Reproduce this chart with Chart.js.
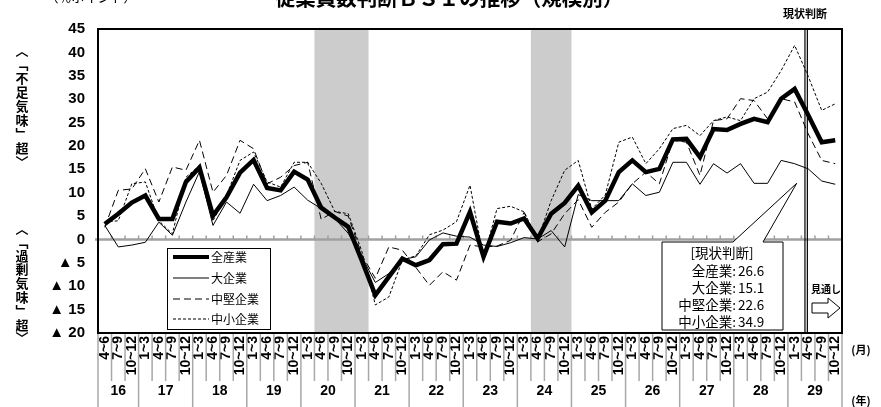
<!DOCTYPE html>
<html><head><meta charset="utf-8">
<script src="https://cdn.jsdelivr.net/npm/chart.js@4.4.0/dist/chart.umd.min.js"></script>
<style>html,body{margin:0;padding:0;background:#fff;}#wrap{width:881px;height:407px;}</style>
</head><body><div id="wrap"><canvas id="c" width="881" height="407"></canvas></div>
<script>
const monthLabels = ['4~6','7~9','10~12',
 '1~3','4~6','7~9','10~12','1~3','4~6','7~9','10~12','1~3','4~6','7~9','10~12',
 '1~3','4~6','7~9','10~12','1~3','4~6','7~9','10~12','1~3','4~6','7~9','10~12',
 '1~3','4~6','7~9','10~12','1~3','4~6','7~9','10~12','1~3','4~6','7~9','10~12',
 '1~3','4~6','7~9','10~12','1~3','4~6','7~9','10~12','1~3','4~6','7~9','10~12',
 '1~3','4~6','7~9','10~12'];
const yearLabels = ['16','17','18','19','20','21','22','23','24','25','26','27','28','29'];
const yearCounts = [3,4,4,4,4,4,4,4,4,4,4,4,4,4];
const allIndustry = [3.3,5.5,7.9,9.4,4.4,4.4,12.3,15.4,5.1,9.0,14.3,17.0,11.0,10.5,14.5,12.8,6.8,4.7,2.7,-4.5,-11.9,-8.0,-4.1,-5.5,-4.4,-1.0,-0.9,5.9,-3.7,3.8,3.4,4.5,0.2,5.5,7.8,11.5,5.8,8.3,14.4,16.9,14.4,15.1,21.4,21.5,17.6,23.6,23.4,24.7,25.8,25.1,30.1,32.2,26.6,20.8,21.2];
const largeFirms = [3.0,-1.6,-1.2,-0.6,3.7,0.9,8.0,14.5,3.0,8.0,5.6,11.8,8.3,9.4,11.2,8.4,6.6,4.5,1.3,-3.7,-9.2,-7.3,-4.3,-3.7,-0.1,1.4,0.7,0.5,-1.2,-1.5,-0.7,0.4,0.1,1.9,-1.6,9.6,8.3,8.3,8.3,11.9,9.4,10.1,16.5,16.5,11.8,16.2,14.2,16.2,12.0,12.0,16.9,16.2,15.1,12.5,11.8];
const midFirms = [2.6,10.5,10.8,15.1,8.0,15.5,14.8,21.2,10.1,13.7,21.2,19.4,11.9,13.3,15.8,16.5,4.3,6.0,5.0,-3.3,-8.3,-1.6,-2.3,-6.0,-9.8,-6.9,-8.7,-1.2,-1.6,-1.4,-0.2,5.8,-0.5,1.2,5.5,8.5,2.6,5.8,8.0,11.9,14.4,11.9,21.2,20.8,13.7,25.4,25.8,30.1,29.7,25.8,30.1,29.4,22.6,16.9,16.2];
const smallFirms = [3.7,4.0,11.9,12.3,4.0,1.2,13.3,15.8,4.0,9.4,16.9,18.7,12.3,11.2,16.5,16.5,12.0,6.0,5.5,-2.5,-14.0,-12.3,-4.4,-3.5,1.0,2.0,3.8,11.6,-4.0,6.6,7.1,5.9,-0.1,8.3,14.8,16.9,6.5,9.5,20.8,21.9,16.2,19.4,23.7,24.4,22.2,25.4,26.2,25.4,30.1,31.5,36.1,41.5,34.9,27.6,29.0];
const seriesNames = ['全産業','大企業','中堅企業','中小企業'];
const currentValues = ['26.6','15.1','22.6','34.9'];
const recessionRanges = [[16,19],[32,34]];
const currentIndex = 52;
const yMin = -20, yMax = 45, yStep = 5;

const JP = '"Noto Sans CJK JP", sans-serif';
const LAT = '"Liberation Sans", Arial, sans-serif';

const decor = {
  id: 'decor',
  beforeDatasetsDraw(chart) {
    const {ctx, chartArea: a, scales: {x, y}} = chart;
    ctx.save();
    ctx.fillStyle = '#cccccc';
    recessionRanges.forEach(([s, e]) => {
      const x0 = x.getPixelForValue(s - 0.5), x1 = x.getPixelForValue(e + 0.5);
      ctx.fillRect(x0, a.top, x1 - x0, a.bottom - a.top);
    });
    const y0 = y.getPixelForValue(0);
    ctx.strokeStyle = '#a0a0a0';
    ctx.lineWidth = 2.5;
    ctx.beginPath(); ctx.moveTo(a.left - 3, y0); ctx.lineTo(a.right, y0); ctx.stroke();
    ctx.lineWidth = 1.5;
    for (let k = 1; k < monthLabels.length; k++) {
      const px = x.getPixelForValue(k - 0.5);
      ctx.beginPath(); ctx.moveTo(px, y0); ctx.lineTo(px, y0 - 4); ctx.stroke();
    }
    ctx.restore();
  },
  afterDraw(chart) {
    const {ctx, chartArea: a, scales: {x, y}} = chart;
    ctx.save();
    const yearStarts = new Set([0]);
    let acc = 0;
    yearCounts.forEach(c => { acc += c; yearStarts.add(acc); });
    ctx.strokeStyle = '#a8a8a8';
    ctx.lineWidth = 1.5;
    for (let k = 0; k <= monthLabels.length; k++) {
      const px = x.getPixelForValue(k - 0.5);
      ctx.beginPath(); ctx.moveTo(px, a.bottom); ctx.lineTo(px, yearStarts.has(k) ? 407 : 381); ctx.stroke();
    }
    ctx.fillStyle = '#000';
    ctx.font = 'bold 14px ' + LAT;
    ctx.textAlign = 'center'; ctx.textBaseline = 'middle';
    acc = 0;
    yearLabels.forEach((lab, i) => {
      const mid = acc + yearCounts[i] / 2 - 0.5;
      ctx.fillText(lab, x.getPixelForValue(mid), 391);
      acc += yearCounts[i];
    });
    ctx.font = 'bold 11px ' + JP;
    ctx.fillText('(月)', 861, 350);
    ctx.fillText('(年)', 861, 401);
    ctx.strokeStyle = '#000'; ctx.lineWidth = 2;
    ctx.strokeRect(a.left, a.top, a.right - a.left, a.bottom - a.top);
    const dx = x.getPixelForValue(currentIndex - 0.15);
    ctx.lineWidth = 1.2;
    [dx - 1.2, dx + 1.2].forEach(px => { ctx.beginPath(); ctx.moveTo(px, a.top); ctx.lineTo(px, a.bottom); ctx.stroke(); });
    ctx.font = 'bold 20.5px ' + JP;
    ctx.textAlign = 'center'; ctx.textBaseline = 'alphabetic';
    ctx.fillText('従業員数判断ＢＳＩの推移（規模別）', 449, 6);
    ctx.font = '13px ' + JP;
    ctx.fillText('（％ポイント）', 91, 2);
    ctx.font = 'bold 11px ' + JP;
    ctx.textBaseline = 'middle';
    ctx.fillText('現状判断', 805, 14);
    ctx.font = 'bold 13px ' + JP;
    const up = ['︿','﹁','不','足','気','味','﹂','超','﹀'];
    const lo = ['︿','﹁','過','剰','気','味','﹂','超','﹀'];
    up.forEach((ch, i) => ctx.fillText(ch, 22, 50 + i * 14));
    lo.forEach((ch, i) => ctx.fillText(ch, 22, 228 + i * 13.8));
    ctx.fillStyle = '#fff';
    ctx.fillRect(167, 248, 103, 81);
    ctx.strokeStyle = '#000'; ctx.lineWidth = 1;
    ctx.strokeRect(167.5, 248.5, 103, 81);
    const legY = [257, 278, 299, 319];
    const styles = [[4, []], [1, []], [1, [7, 4]], [1, [3, 2]]];
    legY.forEach((ly, i) => {
      ctx.lineWidth = styles[i][0]; ctx.setLineDash(styles[i][1]);
      ctx.beginPath(); ctx.moveTo(173, ly); ctx.lineTo(209, ly); ctx.stroke();
      ctx.setLineDash([]);
      ctx.fillStyle = '#000'; ctx.font = '12px ' + JP; ctx.textAlign = 'left';
      ctx.fillText(seriesNames[i], 211, ly);
    });
    const tipX = x.getPixelForValue(currentIndex - 0.85), tipY = y.getPixelForValue(12);
    ctx.beginPath();
    ctx.moveTo(662, 242); ctx.lineTo(733, 242); ctx.lineTo(tipX, tipY); ctx.lineTo(763, 242);
    ctx.lineTo(783, 242); ctx.lineTo(783, 330); ctx.lineTo(662, 330); ctx.closePath();
    ctx.fillStyle = '#fff'; ctx.fill();
    ctx.lineWidth = 1; ctx.strokeStyle = '#000'; ctx.stroke();
    ctx.fillStyle = '#000'; ctx.font = '13.5px ' + JP;
    ctx.textAlign = 'center';
    ctx.fillText('[現状判断]', 722, 253);
    const cy = [271, 288, 305, 322];
    seriesNames.forEach((nm, i) => {
      ctx.textAlign = 'right'; ctx.fillText(nm + ':', 736, cy[i]);
      ctx.textAlign = 'left'; ctx.fillText(currentValues[i], 738, cy[i]);
    });
    ctx.font = 'bold 10px ' + JP; ctx.textAlign = 'center';
    ctx.fillText('見通し', 826, 289);
    ctx.beginPath();
    ctx.moveTo(812, 303); ctx.lineTo(828, 303); ctx.lineTo(828, 298); ctx.lineTo(840, 308);
    ctx.lineTo(828, 318); ctx.lineTo(828, 313); ctx.lineTo(812, 313); ctx.closePath();
    ctx.fillStyle = '#fff'; ctx.fill(); ctx.stroke();
    ctx.restore();
  }
};

new Chart(document.getElementById('c'), {
  type: 'line',
  data: {
    labels: monthLabels,
    datasets: [
      {label: seriesNames[0], data: allIndustry, borderColor: '#000', borderWidth: 4.5, pointRadius: 0, tension: 0},
      {label: seriesNames[1], data: largeFirms, borderColor: '#000', borderWidth: 1, pointRadius: 0, tension: 0},
      {label: seriesNames[2], data: midFirms, borderColor: '#000', borderWidth: 1, borderDash: [7, 4], pointRadius: 0, tension: 0},
      {label: seriesNames[3], data: smallFirms, borderColor: '#000', borderWidth: 1, borderDash: [3, 2], pointRadius: 0, tension: 0}
    ]
  },
  options: {
    responsive: false, animation: false, devicePixelRatio: 1,
    layout: {padding: {left: 0, right: 39, top: 29, bottom: 0}},
    plugins: {legend: {display: false}, tooltip: {enabled: false}},
    scales: {
      x: {
        offset: true,
        grid: {display: false, drawTicks: false},
        border: {display: false},
        ticks: {autoSkip: false, minRotation: 90, maxRotation: 90, padding: 3, color: '#000', font: {family: LAT, size: 14, weight: 'bold'}},
        afterFit(s) { s.height = 74; }
      },
      y: {
        min: yMin, max: yMax,
        grid: {display: false, drawTicks: false},
        border: {display: false},
        ticks: {stepSize: yStep, padding: 13, color: '#000', font: {family: LAT, size: 15, weight: 'bold'},
          callback: v => v < 0 ? '▲ ' + (-v) : String(v)},
        afterFit(s) { s.width = 98; }
      }
    }
  },
  plugins: [decor]
});
</script></body></html>
